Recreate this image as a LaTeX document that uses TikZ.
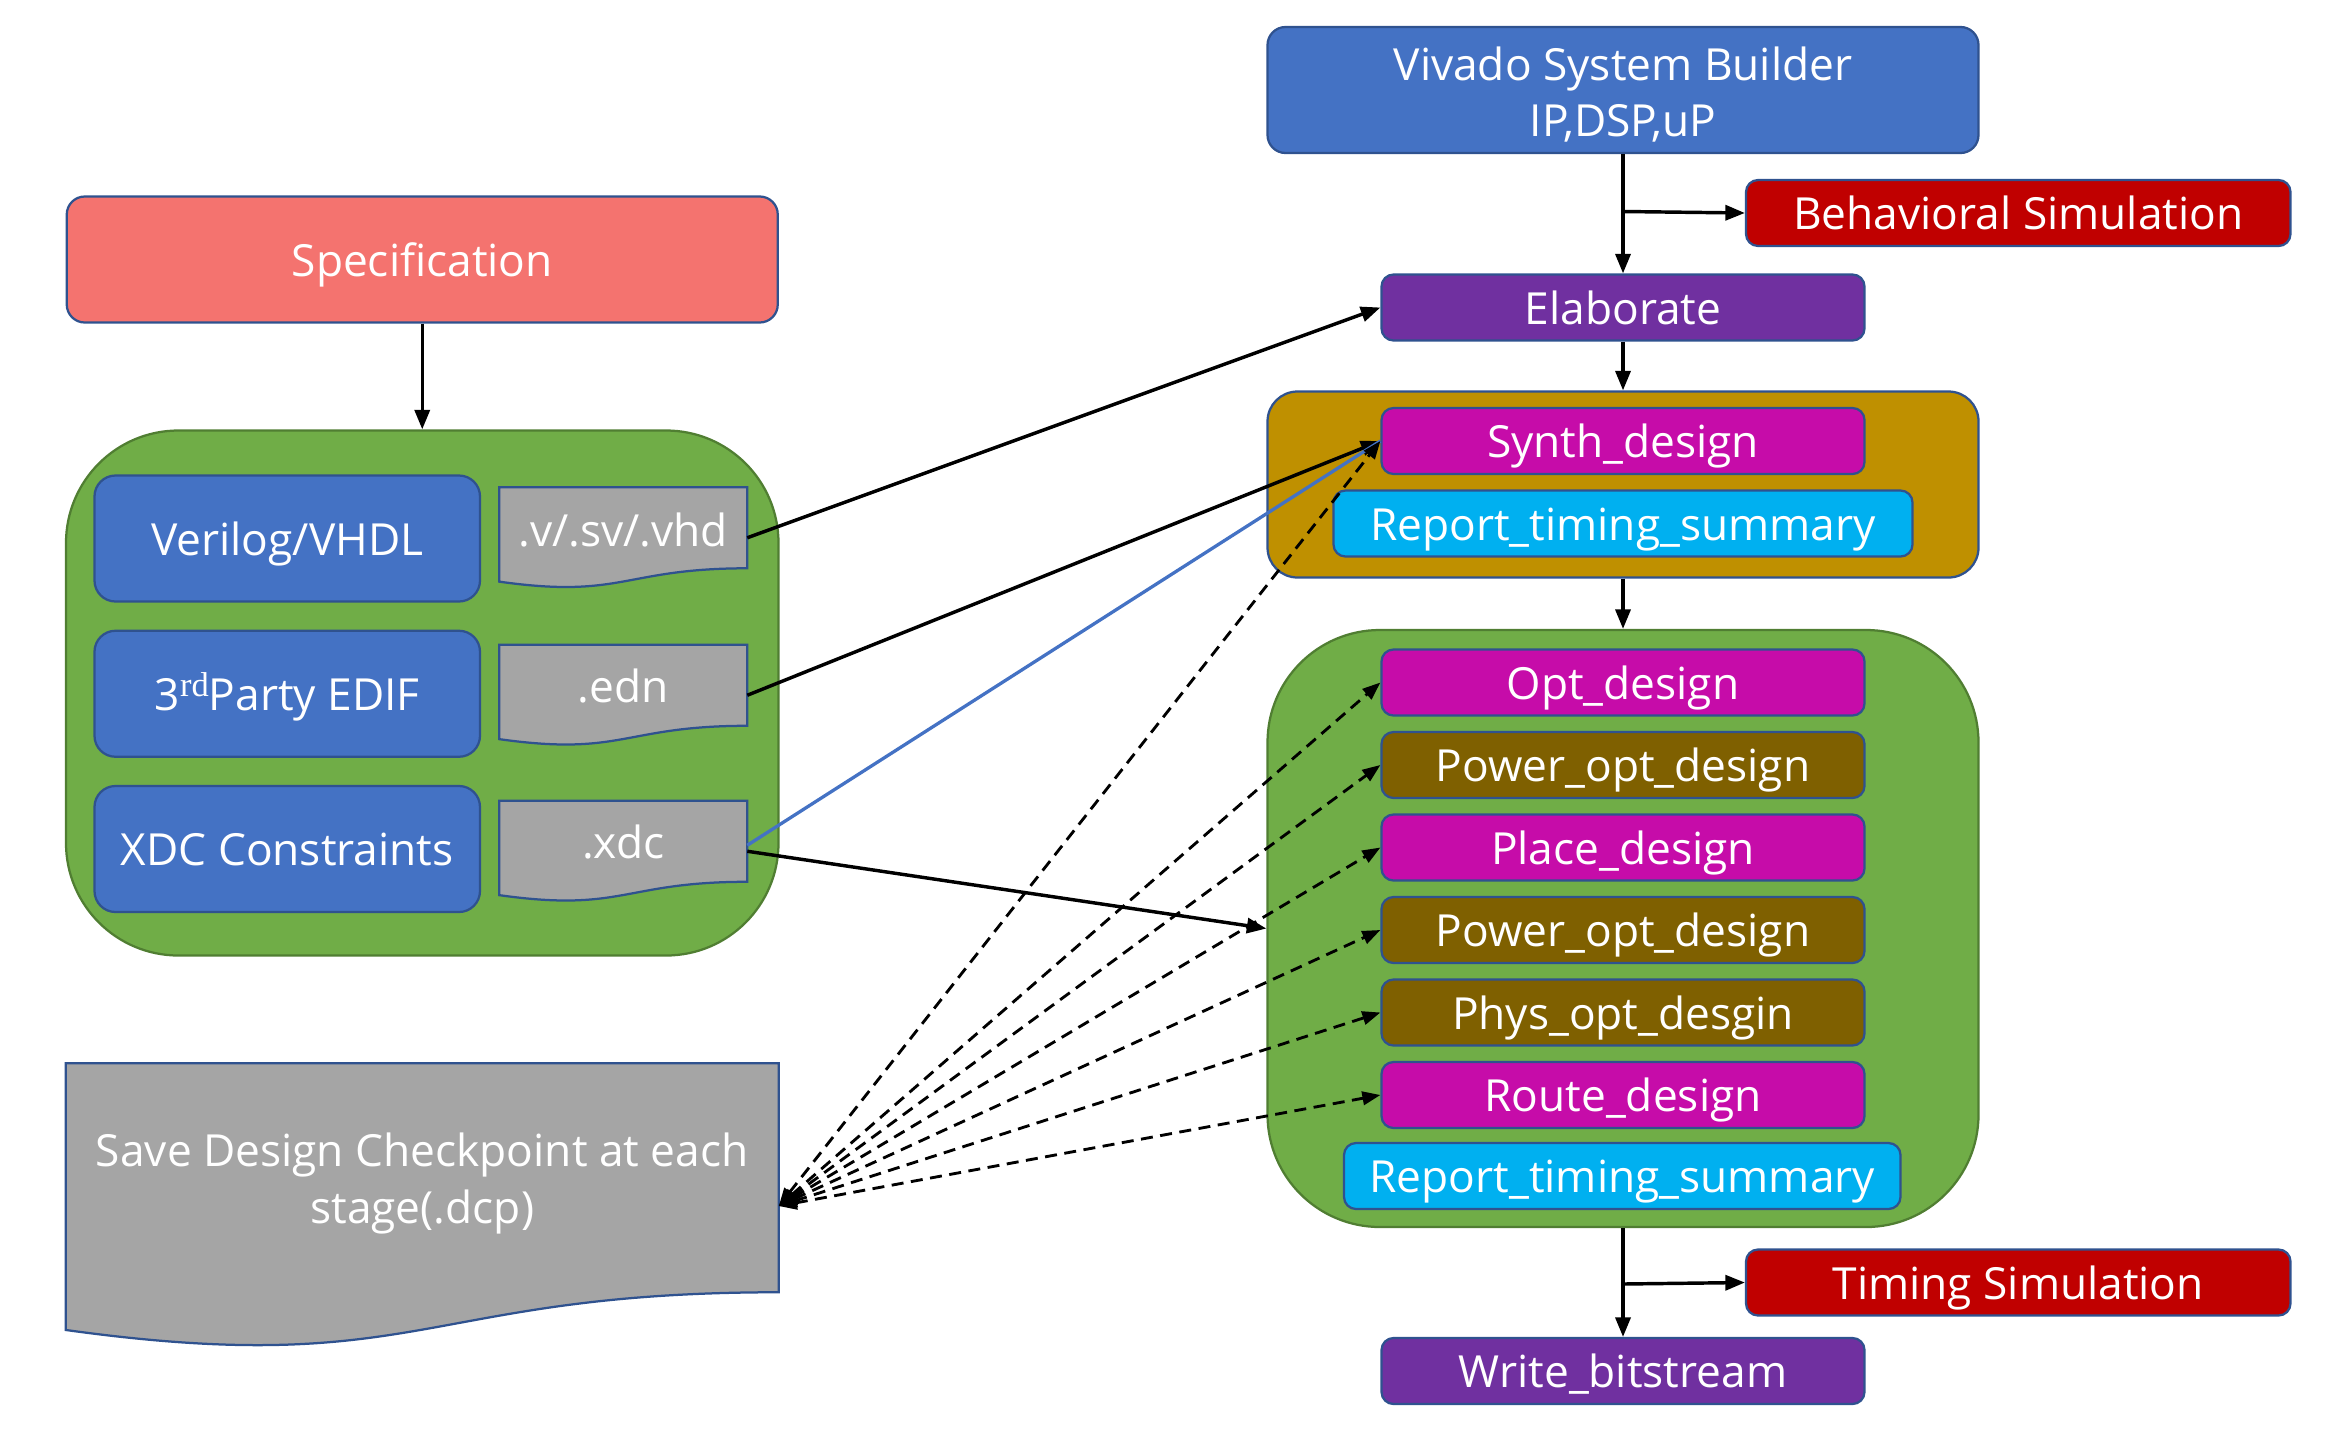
\documentclass[tikz,border=0pt]{standalone}
\usepackage{fontspec}
\setmainfont{Open Sans}
\newfontfamily\rdfont{Liberation Serif}
\usetikzlibrary{arrows.meta,calc}
\definecolor{bord}{HTML}{2F528F}
\definecolor{salmon}{HTML}{F4736F}
\definecolor{oblue}{HTML}{4472C4}
\definecolor{ogreen}{HTML}{70AD47}
\definecolor{gbord}{HTML}{507E32}
\definecolor{ogray}{HTML}{A5A5A5}
\definecolor{ored}{HTML}{C00000}
\definecolor{opurple}{HTML}{7030A0}
\definecolor{ogold}{HTML}{BF9000}
\definecolor{omag}{HTML}{C60CA9}
\definecolor{obrown}{HTML}{7F6000}
\definecolor{ocyan}{HTML}{00B0F0}
\newcommand{\docpath}[1]{%
  \path[fill=ogray,draw=bord,line width=1.5pt] (#1.north west) -- (#1.north east)
    -- ($(#1.north east)!0.802!(#1.south east)$)
    .. controls ($(#1.north)!0.802!(#1.south)$) and ($(#1.north)!1.107!(#1.south)$)
    .. ($(#1.north west)!0.934!(#1.south west)$) -- cycle;}
\begin{document}
\begin{tikzpicture}[x=1pt,y=-1pt,
  box/.style={rectangle, rounded corners=8pt, draw=bord, line width=1.5pt, text=white,
    font=\fontsize{29.5}{37}\selectfont, inner sep=0pt, text height=26pt, text depth=4pt},
  small/.style={box, minimum width=322pt, minimum height=44pt},
  big/.style={box, minimum width=474pt},
  cont/.style={rectangle, rounded corners=75pt, fill=ogreen, draw=gbord, line width=1.5pt},
  docn/.style={rectangle, minimum width=165pt, minimum height=67pt, inner sep=0pt},
  lbl/.style={text=white, font=\fontsize{29.5}{37.5}\selectfont, align=center, inner sep=0pt},
  arr/.style={draw=black, line width=2.3pt, -{Triangle[length=13pt,width=10pt]}},
  darr/.style={draw=black, line width=1.9pt, dash pattern=on 8pt off 5pt,
    {Triangle[length=12pt,width=9pt]}-{Triangle[length=12pt,width=9pt]}},
  bline/.style={draw=oblue, line width=2.2pt}
]
\useasboundingbox (0,0) rectangle (1568,956);
% left column
\node[big, fill=salmon, minimum height=84pt, rounded corners=12pt] (spec) at (281.5,173) {Specification};
\node[cont, minimum width=475pt, minimum height=350pt] (lcont) at (281.5,462) {};
\node[box, fill=oblue, minimum width=257pt, minimum height=84pt, rounded corners=14pt] (ver) at (191.5,359) {Verilog/VHDL};
\node[box, fill=oblue, minimum width=257pt, minimum height=84pt, rounded corners=14pt] (edif) at (191.5,462.5) {3\raisebox{9pt}{\rdfont\fontsize{23}{23}\selectfont rd}Party EDIF};
\node[box, fill=oblue, minimum width=257pt, minimum height=84pt, rounded corners=14pt] (xdcb) at (191.5,566) {XDC Constraints};
\node[docn] (d1) at (415.5,358.5) {};
\node[docn] (d2) at (415.5,463.5) {};
\node[docn] (d3) at (415.5,567.5) {};
\docpath{d1}\docpath{d2}\docpath{d3}
\node[lbl] (t1) at (415.5,353) {.v/.sv/.vhd};
\node[lbl] (t2) at (415.5,457) {.edn};
\node[lbl] (t3) at (415.5,561) {.xdc};
\node[docn, minimum width=475pt, minimum height=190pt] (dcp) at (281.5,804) {};
\docpath{dcp}
\node[lbl] (tdcp) at (281.5,789) {Save Design Checkpoint at each\\stage(.dcp)};
% right column
\node[big, fill=oblue, minimum height=84pt, rounded corners=12pt, text height=0pt, text depth=0pt] (viv) at (1082,60) {};
\node[lbl] (tviv) at (1082,63) {Vivado System Builder\\IP,DSP,uP};
\node[box, fill=ored, minimum width=363pt, minimum height=44pt] (behav) at (1345.5,142) {Behavioral Simulation};
\node[small, fill=opurple] (elab) at (1082,205) {Elaborate};
\node[box, fill=ogold, minimum width=474pt, minimum height=124pt, rounded corners=20pt, text height=0pt, text depth=0pt] (synthc) at (1082,323) {};
\node[small, fill=omag] (synth) at (1082,294) {Synth\_design};
\node[box, fill=ocyan, minimum width=386pt, minimum height=44pt] (rts1) at (1082,349) {Report\_timing\_summary};
\node[cont, minimum width=474pt, minimum height=398pt] (implc) at (1082,619) {};
\node[small, fill=omag] (opt) at (1082,455) {Opt\_design};
\node[small, fill=obrown] (pow1) at (1082,510) {Power\_opt\_design};
\node[small, fill=omag] (place) at (1082,565) {Place\_design};
\node[small, fill=obrown] (pow2) at (1082,620) {Power\_opt\_design};
\node[small, fill=obrown] (phys) at (1082,675) {Phys\_opt\_desgin};
\node[small, fill=omag] (route) at (1082,730) {Route\_design};
\node[box, fill=ocyan, minimum width=371pt, minimum height=44pt] (rts2) at (1081.5,784) {Report\_timing\_summary};
\node[box, fill=ored, minimum width=363pt, minimum height=44pt] (timsim) at (1345.5,855) {Timing Simulation};
\node[small, fill=opurple] (write) at (1082,914) {Write\_bitstream};
% connectors
\draw[arr] (spec.south) -- (lcont.north);
\draw[arr] (viv.south) -- (elab.north);
\coordinate (b1) at (1082,141);
\draw[arr] (b1) -- (behav.west);
\draw[arr] (elab.south) -- (synthc.north);
\draw[arr] (synthc.south) -- (implc.north);
\draw[arr] (implc.south) -- (write.north);
\coordinate (b2) at (1082,856);
\draw[arr] (b2) -- (timsim.west);
\draw[arr] (d1.east) -- (elab.west);
\draw[arr] (d2.east) -- (synth.west);
\draw[bline] ($(d3.east)+(0,-4)$) -- (synth.west);
\draw[arr] (d3.east) -- (implc.west);
\foreach \t in {synth,opt,pow1,place,pow2,phys,route}
  \draw[darr] (dcp.east) -- (\t.west);
\end{tikzpicture}
\end{document}
